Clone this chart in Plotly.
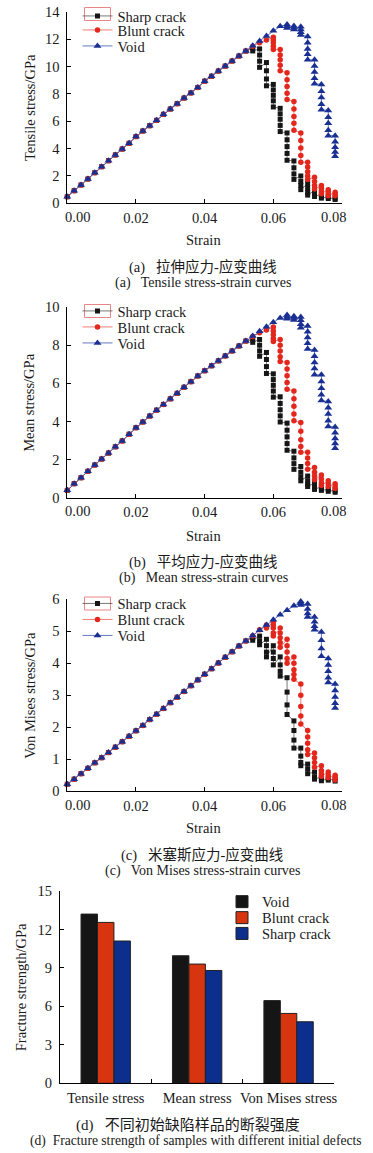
import plotly.graph_objects as go

W, H = 373, 1153
SERIF = "Liberation Serif, Noto Sans CJK SC, serif"
FS = 14.5

# ------------------------------------------------------------------ data
strain_rise = [0.000, 0.002, 0.004, 0.006, 0.008, 0.010, 0.012, 0.014, 0.016, 0.018,
               0.020, 0.022, 0.024, 0.026, 0.028, 0.030, 0.032, 0.034, 0.036, 0.038,
               0.040, 0.042, 0.044, 0.046, 0.048, 0.050, 0.052]
tensile_rise = [0.48, 0.92, 1.34, 1.78, 2.24, 2.68, 3.12, 3.54, 3.97, 4.39,
                4.88, 5.29, 5.68, 6.07, 6.51, 6.90, 7.29, 7.70, 8.08, 8.48,
                8.94, 9.30, 9.68, 10.04, 10.41, 10.78, 11.14]
mean_rise = [0.40, 0.75, 1.06, 1.40, 1.73, 2.04, 2.35, 2.68, 2.99, 3.34,
             3.68, 3.98, 4.29, 4.60, 4.90, 5.19, 5.48, 5.80, 6.09, 6.39,
             6.66, 6.92, 7.18, 7.44, 7.70, 7.96, 8.22]
vm_rise = [0.22, 0.38, 0.55, 0.72, 0.89, 1.05, 1.21, 1.38, 1.55, 1.72,
           1.89, 2.06, 2.24, 2.41, 2.59, 2.77, 2.94, 3.12, 3.30, 3.48,
           3.66, 3.83, 4.01, 4.19, 4.36, 4.54, 4.70]

# strain steps after the common elastic part; each step holds a column of values
strain_tail = [0.054, 0.056, 0.058, 0.060, 0.062, 0.064, 0.066,
               0.068, 0.070, 0.072, 0.074, 0.076, 0.078]

tensile_sharp_tail = [[11.35, 11.15], [11.3, 10.85, 10.4, 9.95], [10.3, 9.7, 9.1, 8.6],
                      [8.7, 8.3, 7.9, 7.5, 7.05], [6.95, 6.55, 6.15, 5.7, 5.25],
                      [5.15, 4.65, 4.15, 3.65, 3.15], [3.1, 2.6, 2.15, 1.75],
                      [2.0, 1.6, 1.3, 1.0], [1.45, 1.1, 0.8, 0.6], [0.95, 0.7, 0.5],
                      [0.65, 0.48, 0.38], [0.48, 0.35], [0.38, 0.28]]
tensile_blunt_tail = [[11.5], [11.75], [11.95], [12.15, 11.95, 11.75, 11.5, 11.25],
                      [11.25, 10.85, 10.5, 10.1, 9.7], [9.55, 9.05, 8.55, 8.05, 7.6],
                      [7.45, 6.9, 6.35, 5.85, 5.35], [5.15, 4.6, 4.05, 3.5, 3.0],
                      [3.0, 2.65, 2.3, 2.0, 1.75], [1.9, 1.6, 1.3, 1.05],
                      [1.3, 1.1, 0.9, 0.7], [1.0, 0.85, 0.7, 0.55], [0.8, 0.68, 0.55]]
tensile_void_tail = [[11.53], [11.88], [12.24], [12.62], [12.95], [13.08, 12.95, 12.82],
                     [12.98, 12.85, 12.72], [12.92, 12.72, 12.52, 12.32],
                     [12.2, 11.75, 11.3, 10.9, 10.5], [10.5, 10.05, 9.6, 9.15, 8.75],
                     [8.7, 8.2, 7.75, 7.25, 6.85], [6.8, 6.3, 5.85, 5.35, 4.95],
                     [4.95, 4.5, 4.1, 3.75, 3.45]]

mean_sharp_tail = [[8.3, 8.15], [8.3, 8.0, 7.7, 7.42], [7.62, 7.25, 6.88, 6.52],
                   [6.5, 6.2, 5.9, 5.6, 5.28], [5.3, 4.95, 4.62, 4.3, 3.98],
                   [3.92, 3.55, 3.2, 2.85, 2.5], [2.45, 2.1, 1.8, 1.5],
                   [1.65, 1.35, 1.1, 0.9], [1.15, 0.9, 0.72, 0.6], [0.8, 0.6, 0.45],
                   [0.6, 0.47, 0.4], [0.45, 0.35], [0.4, 0.3]]
mean_blunt_tail = [[8.45], [8.65], [8.8], [8.95, 8.75, 8.55, 8.35, 8.2],
                   [8.3, 8.0, 7.7, 7.4, 7.15], [7.1, 6.75, 6.4, 6.05, 5.7],
                   [5.6, 5.2, 4.8, 4.4, 4.05], [3.95, 3.5, 3.05, 2.7, 2.4],
                   [2.4, 2.1, 1.8, 1.5], [1.6, 1.35, 1.15, 0.95],
                   [1.2, 1.0, 0.8, 0.65], [0.9, 0.75, 0.6], [0.75, 0.6, 0.5]]
mean_void_tail = [[8.48], [8.73], [8.97], [9.2], [9.42], [9.58, 9.48, 9.38],
                  [9.52, 9.42, 9.32], [9.48, 9.3, 9.1, 8.92], [9.0, 8.7, 8.4, 8.1, 7.8],
                  [7.75, 7.42, 7.1, 6.78, 6.45], [6.45, 6.1, 5.75, 5.4, 5.1],
                  [5.05, 4.72, 4.4, 4.05, 3.75], [3.72, 3.42, 3.12, 2.85, 2.6]]

vm_sharp_tail = [[4.8, 4.72], [4.85, 4.7, 4.58], [4.75, 4.55, 4.35, 4.2],
                 [4.55, 4.35, 4.15, 3.95], [4.2, 3.95, 3.75, 3.6], [3.55, 3.1, 2.7, 2.4],
                 [2.2, 1.9, 1.6, 1.35], [1.35, 1.1, 0.9, 0.8], [0.85, 0.7, 0.55],
                 [0.6, 0.45, 0.38], [0.45, 0.38, 0.33], [0.4, 0.35], [0.38, 0.32]]
vm_blunt_tail = [[4.86], [5.05], [5.2, 5.1], [5.3, 5.2, 5.1, 4.95, 4.85],
                 [5.1, 4.95, 4.8, 4.65, 4.5], [4.75, 4.55, 4.35, 4.15, 4.0],
                 [4.2, 4.0, 3.8, 3.65, 3.5], [3.35, 3.0, 2.65, 2.35, 2.1],
                 [1.9, 1.7, 1.5, 1.3, 1.15], [1.2, 1.05, 0.9, 0.75],
                 [0.8, 0.65, 0.55, 0.47], [0.6, 0.5, 0.42], [0.5, 0.42, 0.35]]
vm_void_tail = [[4.87], [5.03], [5.2], [5.36], [5.52], [5.66], [5.8],
                [5.93, 5.88, 5.82], [5.85, 5.7, 5.56, 5.45], [5.45, 5.3, 5.16, 5.05],
                [4.98, 4.72, 4.46, 4.22], [4.15, 3.95, 3.75, 3.55, 3.4],
                [3.35, 3.15, 2.95, 2.75, 2.6]]

bar_categories = ["Tensile stress", "Mean stress", "Von Mises stress"]
strength_void = [13.2, 9.95, 6.45]
strength_blunt = [12.55, 9.3, 5.45]
strength_sharp = [11.1, 8.8, 4.8]

x_ticks = [0.0, 0.02, 0.04, 0.06, 0.08]
x_ticktext = ["", "0.02", "0.04", "0.06", ""]


def series(rise, tail):
    xs, ys = list(strain_rise), list(rise)
    for s, col in zip(strain_tail, tail):
        xs += [s] * len(col)
        ys += col
    return xs, ys


# ------------------------------------------------------------------ styling helpers
def px_x(a, b):
    return [a / W, b / W]


def px_y(top, bottom):
    return [1 - bottom / H, 1 - top / H]


BLACK, RED, NAVY = "#161616", "#e3271d", "#1a2f92"
LINE_BLACK, LINE_RED, LINE_NAVY = "#555555", "#ec5b52", "#3f57b3"

fig = go.Figure()

panels = [
    ("x", "y", tensile_rise, tensile_sharp_tail, tensile_blunt_tail, tensile_void_tail, 1),
    ("x2", "y2", mean_rise, mean_sharp_tail, mean_blunt_tail, mean_void_tail, 4),
    ("x3", "y3", vm_rise, vm_sharp_tail, vm_blunt_tail, vm_void_tail, 7),
]


def leg_name(i):
    return "legend" if i == 1 else f"legend{i}"


for xa, ya, rise, sh, bl, vo, l0 in panels:
    for k, (name, tail, col, lcol, sym, size) in enumerate([
        ("Sharp crack", sh, BLACK, LINE_BLACK, "square", 5),
        ("Blunt crack", bl, RED, LINE_RED, "circle", 5.5),
        ("Void", vo, NAVY, LINE_NAVY, "triangle-up", 7),
    ]):
        xs, ys = series(rise, tail)
        fig.add_trace(go.Scatter(
            x=xs, y=ys, name=name, mode="lines+markers", xaxis=xa, yaxis=ya,
            line=dict(color=lcol, width=0.8),
            marker=dict(symbol=sym, size=size, color=col, line=dict(width=0)),
            cliponaxis=False, legend=leg_name(l0 + k), showlegend=True,
        ))

for k, (name, vals, col) in enumerate([
    ("Void", strength_void, "#151515"),
    ("Blunt crack", strength_blunt, "#d6350f"),
    ("Sharp crack", strength_sharp, "#0c2e8d"),
]):
    fig.add_trace(go.Bar(
        x=bar_categories, y=vals, name=name, xaxis="x4", yaxis="y4",
        marker=dict(color=col, line=dict(color="#222222", width=1)),
        legend=leg_name(10 + k),
    ))

axis_common = dict(
    showline=True, linecolor="#000000", linewidth=1, ticks="inside", ticklen=4,
    tickcolor="#000000", tickwidth=1, showgrid=False, zeroline=False,
    tickfont=dict(family=SERIF, size=FS, color="#1a1a1a"), automargin=False,
)
text_font = dict(family=SERIF, size=FS, color="#1a1a1a")

# plot areas in pixels: left, right, top, bottom
boxes = {
    1: (67.3, 342, 12, 203.3),
    2: (67.3, 342, 307, 498),
    3: (67.3, 342, 599.3, 791.3),
    4: (60, 334.3, 891, 1083.3),
}
yranges = {1: ([0, 14], 2), 2: ([0, 10], 2), 3: ([0, 6], 1)}

layout = dict(
    width=W, height=H, margin=dict(l=0, r=0, t=0, b=0),
    paper_bgcolor="white", plot_bgcolor="white",
    bargap=0.46, bargroupgap=0, barmode="group",
    font=dict(family=SERIF, size=FS, color="#1a1a1a"),
)

for i in (1, 2, 3):
    x0, x1, t, b = boxes[i]
    sx = "" if i == 1 else str(i)
    layout["xaxis" + sx] = dict(
        axis_common, domain=px_x(x0, x1), anchor="y" + sx, range=[0, 0.08],
        tickvals=x_ticks, ticktext=x_ticktext, ticklabelstandoff=1,
    )
    rng, dt = yranges[i]
    layout["yaxis" + sx] = dict(
        axis_common, domain=px_y(t, b), anchor="x" + sx, range=rng, dtick=dt,
        ticklabelstandoff=4,
    )

x0, x1, t, b = boxes[4]
layout["xaxis4"] = dict(
    axis_common, domain=px_x(x0, x1), anchor="y4", type="category",
    categoryorder="array", categoryarray=bar_categories, range=[-0.5, 2.5],
    tickson="boundaries", ticklabelstandoff=1, tickangle=0,
)
layout["yaxis4"] = dict(
    axis_common, domain=px_y(t, b), anchor="x4", range=[0, 15], dtick=3,
    ticklabelstandoff=4,
)

# one legend per entry so rows keep the reference spacing
legend_rows = {
    1: 14, 2: 30, 3: 46,
    4: 311, 5: 327, 6: 343,
    7: 603.5, 8: 619.5, 9: 635.5,
    10: 901.7, 11: 917.7, 12: 933.5,
}
for i, row in legend_rows.items():
    lx = 77.5 if i <= 9 else 222
    if i == 1:
        ypos, yanc = 1.0, "top"   # keep inside the page
    else:
        ypos, yanc = 1 - row / H, "middle"
    layout[leg_name(i)] = dict(
        x=lx / W, xanchor="left", y=ypos, yanchor=yanc,
        bgcolor="rgba(0,0,0,0)", borderwidth=0,
        font=dict(family=SERIF, size=FS, color="#1a1a1a"),
    )

annotations = []
# end tick labels of strain axes sit inside the axis ends
for i, axis_bottom in ((1, 203.3), (2, 498), (3, 791.3)):
    xr = "x" if i == 1 else f"x{i}"
    for val, txt, shift in ((0.0, "0.00", 10), (0.08, "0.08", -9)):
        annotations.append(dict(
            x=val, xref=xr, y=1 - (axis_bottom + 13.4) / H, yref="paper",
            text=txt, showarrow=False, xanchor="center", yanchor="middle",
            xshift=shift, font=text_font,
        ))

# axis titles
axis_titles = [
    ("Strain", 203, 240, 0),
    ("Strain", 203, 535.7, 0),
    ("Strain", 203, 828, 0),
    ("Tensile stress/GPa", 29.3, 107.7, -90),
    ("Mean stress/GPa", 29.3, 402.5, -90),
    ("Von Mises stress/GPa", 29.3, 695.5, -90),
    ("Fracture strength/GPa", 20.7, 987.5, -90),
]
for txt, cx, cy, ang in axis_titles:
    annotations.append(dict(
        x=cx / W, xref="paper", y=1 - cy / H, yref="paper", text=txt,
        showarrow=False, xanchor="center", yanchor="middle", textangle=ang,
        font=text_font,
    ))

captions = [
    ("(a)\u00a0\u00a0 拉伸应力-应变曲线", 203, 267, 14.5),
    ("(a)\u00a0\u00a0 Tensile stress-strain curves", 203, 283, 14),
    ("(b)\u00a0\u00a0 平均应力-应变曲线", 203, 561.7, 14.5),
    ("(b)\u00a0\u00a0 Mean stress-strain curves", 203, 577.5, 14),
    ("(c)\u00a0\u00a0 米塞斯应力-应变曲线", 202, 855, 14.5),
    ("(c)\u00a0\u00a0 Von Mises stress-strain curves", 202.5, 871, 14),
    ("(d)\u00a0\u00a0 不同初始缺陷样品的断裂强度", 187.5, 1125, 15),
    ("(d)\u00a0 Fracture strength of samples with different initial defects", 196, 1140.5, 13.6),
]
for txt, cx, cy, fs in captions:
    annotations.append(dict(
        x=cx / W, xref="paper", y=1 - cy / H, yref="paper", text=txt,
        showarrow=False, xanchor="center", yanchor="middle",
        font=dict(family=SERIF, size=fs, color="#1a1a1a"),
    ))
layout["annotations"] = annotations

shapes = []
for row in (14, 311, 603.5):
    shapes.append(dict(
        type="rect", xref="paper", yref="paper",
        x0=84.5 / W, x1=110.5 / W, y0=1 - (row + 6.5) / H, y1=1 - (row - 6.5) / H,
        line=dict(color="#e98585", width=1), fillcolor="rgba(0,0,0,0)",
    ))
layout["shapes"] = shapes

fig.update_layout(**layout)
fig.write_html(
    "out.html",
    config={"displayModeBar": False},
    post_script="document.body.style.margin='0px';document.body.style.padding='0px';",
)
